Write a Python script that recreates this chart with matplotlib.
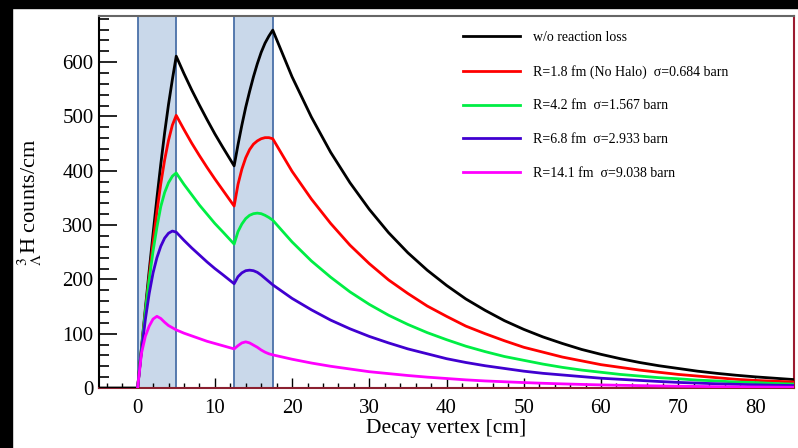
import matplotlib
matplotlib.use('Agg')
import matplotlib.pyplot as plt
from matplotlib.patches import Rectangle

plt.rcParams['font.family'] = 'Liberation Serif'
plt.rcParams['mathtext.fontset'] = 'stix'

# decay vertex positions [cm]
x = [0, 0.5, 1, 1.5, 2, 2.5, 3, 3.5, 4, 4.5, 5,
     6, 7, 8, 9, 10, 11,
     12.5, 13, 13.5, 14, 14.5, 15, 15.5, 16, 16.5, 17, 17.5,
     20, 22.5, 25, 27.5, 30, 32.5, 35, 37.5, 40, 42.5, 45, 47.5, 50,
     52.5, 55, 57.5, 60, 62.5, 65, 67.5, 70, 72.5, 75, 77.5, 80, 82.5, 85]

black = [0, 74, 146, 216, 284, 350, 412, 470, 522, 568, 611,
         579, 549, 521, 494, 468, 444,
         409, 448, 484, 517, 546, 573, 597, 618, 635, 648, 659,
         573, 499, 434, 378, 329, 286, 249, 217, 189, 164, 143, 124, 108,
         94, 82, 71, 62, 54, 47, 41, 36, 31, 27, 23.5, 20.5, 18, 15.5]
red = [0, 71, 140, 206, 268, 325, 376, 420, 456, 484, 502,
       476, 451, 428, 406, 385, 365,
       335, 375, 403, 424, 439, 449, 455, 459, 461, 461, 459,
       399, 348, 303, 263, 229, 199, 174, 151, 132, 114, 100, 87, 75,
       66, 57, 50, 43, 38, 33, 29, 25, 22, 19, 16, 14, 12.5, 11]
green = [0, 72, 140, 200, 252, 296, 334, 360, 378, 390, 396,
         375, 356, 337, 320, 303, 288,
         265, 288, 302, 312, 318, 321, 322, 321, 318, 314, 309,
         269, 234, 204, 177, 154, 134, 117, 102, 89, 77, 67, 58, 51,
         44, 38, 33, 29, 25, 22, 19, 17, 14.5, 13, 11, 10, 8.3, 7.3]
blue = [0, 68, 126, 174, 212, 240, 261, 276, 285, 289, 287,
        272, 258, 245, 232, 220, 209,
        192, 205, 212, 216, 217, 216, 213, 208, 202, 196, 190,
        165, 144, 125, 109, 95, 83, 72, 63, 54, 47, 41, 36, 31,
        27, 24, 21, 18, 16, 14, 12, 10.3, 9, 7.8, 6.8, 5.9, 5.1, 4.5]
magenta = [0, 64, 95, 114, 127, 132, 128, 121, 115, 111, 107,
           101, 96, 91, 86, 82, 78,
           72, 78, 83, 85, 83, 79, 75, 70, 66, 63, 61,
           53, 46, 40, 35, 30, 26.5, 23, 20, 17.5, 15, 13, 11.5, 10,
           8.7, 7.6, 6.6, 5.7, 5, 4.4, 3.8, 3.3, 2.9, 2.5, 2.2, 1.9, 1.65, 1.4]

labels = ['w/o reaction loss',
          'R=1.8 fm (No Halo)  σ=0.684 barn',
          'R=4.2 fm  σ=1.567 barn',
          'R=6.8 fm  σ=2.933 barn',
          'R=14.1 fm  σ=9.038 barn']
colors = ['#000000', '#ff0000', '#00ee44', '#4000d0', '#ff00ff']
targets = [(0, 5), (12.5, 17.5)]

fig = plt.figure(figsize=(7.98, 4.48), dpi=100)
fig.patches.append(Rectangle((0, 1 - 8 / 448), 1, 8 / 448,
                             transform=fig.transFigure, color='black'))
fig.patches.append(Rectangle((0, 0), 12 / 798, 1,
                             transform=fig.transFigure, color='black'))
ax = fig.add_axes([99 / 798, 60 / 448, 695 / 798, 372 / 448])

for x0, x1 in targets:
    ax.axvspan(x0, x1, facecolor='#c9d8ea', edgecolor='#4a70a8',
               linewidth=1.3, zorder=1)

# black curve starts flat before the first target
ax.plot([-5] + x, [0] + black, color=colors[0], lw=2, label=labels[0], zorder=3)
for ys, c, lab in zip([red, green, blue, magenta], colors[1:], labels[1:]):
    ax.plot(x, ys, color=c, lw=2, label=lab, zorder=3)

ax.set_xlim(-5, 85)
ax.set_ylim(0, 685)
ax.set_xticks(range(0, 81, 10))
ax.set_xticks(range(-4, 85, 2), minor=True)
ax.set_yticks(range(0, 601, 100))
ax.set_yticks(range(0, 681, 20), minor=True)
ax.tick_params(axis='both', which='both', direction='in', labelsize=15)
ax.tick_params(axis='x', which='major', length=7, width=1, pad=8)
ax.tick_params(axis='x', which='minor', length=3.5, width=1)
ax.tick_params(axis='y', which='major', length=13, width=1.2, pad=4)
ax.tick_params(axis='y', which='minor', length=7, width=1.2)

ax.spines['left'].set_color('black')
ax.spines['top'].set_color('#666666')
ax.spines['right'].set_color('#9b1b30')
ax.spines['bottom'].set_color('#8b2030')
for s in ax.spines.values():
    s.set_linewidth(1.5)

ax.set_xlabel('Decay vertex [cm]', fontsize=15.5)
ax.set_ylabel(r'$^{3}_{\Lambda}$H counts/cm', fontsize=16)
ax.xaxis.set_label_coords(0.5, -0.083)
ax.yaxis.set_label_coords(-0.079, 0.5)

ax.legend(loc='upper left', bbox_to_anchor=(0.524, 0.96), frameon=False,
          fontsize=10, handlelength=4.1, handletextpad=0.95,
          labelspacing=1.5, borderpad=0, borderaxespad=0)

fig.savefig('out.png', dpi=100)
